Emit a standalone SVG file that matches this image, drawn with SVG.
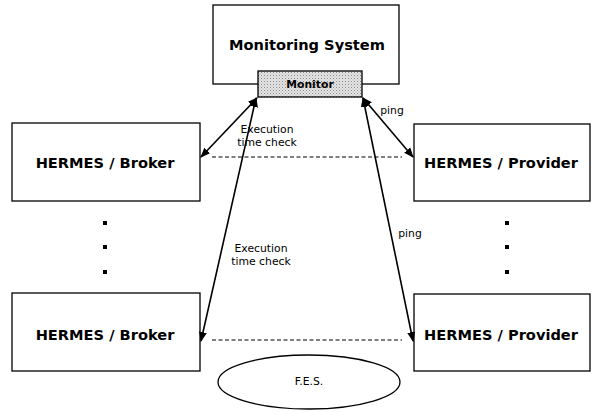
<svg xmlns="http://www.w3.org/2000/svg" width="593" height="412" viewBox="0 0 593 412">
<defs>
<pattern id="dots" width="3" height="3" patternUnits="userSpaceOnUse">
<rect width="3" height="3" fill="#e6e6e6"/>
<rect x="0" y="0" width="1" height="1" fill="#888"/>
<rect x="1.5" y="1.5" width="1" height="1" fill="#aaa"/>
</pattern>
<marker id="ah" viewBox="0 0 10 10" refX="9" refY="5" markerWidth="10" markerHeight="10" markerUnits="userSpaceOnUse" orient="auto-start-reverse">
<path d="M0,1 L10,5 L0,9 Z" fill="#000"/>
</marker>
</defs>
<style>
.box{fill:#fff;stroke:#000;stroke-width:1.3}
.big{font-family:"DejaVu Sans",Verdana,sans-serif;font-weight:bold;font-size:14.6px;fill:#000;text-anchor:middle}
.sm{font-family:"DejaVu Sans",Verdana,sans-serif;font-size:10.8px;fill:#000;text-anchor:middle}
.arr{stroke:#000;stroke-width:1.6;fill:none;marker-start:url(#ah);marker-end:url(#ah)}
.dash{stroke:#000;stroke-width:1;stroke-dasharray:4,2.5;fill:none}
.dot{fill:#000}
</style>
<rect width="593" height="412" fill="#fff"/>
<g id="monitoring-system">
<rect class="box" x="213" y="5" width="186" height="79"/>
<text class="big" x="307" y="50">Monitoring System</text>
</g>
<g id="monitor">
<rect x="258" y="71" width="104" height="26" fill="url(#dots)" stroke="#000" stroke-width="1.3"/>
<text class="sm" x="310" y="88" font-weight="bold" font-size="10px">Monitor</text>
</g>
<g id="broker1">
<rect class="box" x="12" y="123" width="188" height="78"/>
<text class="big" x="105" y="168">HERMES / Broker</text>
</g>
<g id="provider1">
<rect class="box" x="414" y="124" width="176" height="77"/>
<text class="big" x="501" y="168">HERMES / Provider</text>
</g>
<g id="broker2">
<rect class="box" x="12" y="293" width="188" height="78"/>
<text class="big" x="105" y="340">HERMES / Broker</text>
</g>
<g id="provider2">
<rect class="box" x="414" y="294" width="176" height="77"/>
<text class="big" x="501" y="340">HERMES / Provider</text>
</g>
<g id="fes">
<ellipse cx="309" cy="382" rx="91" ry="27" fill="#fff" stroke="#000" stroke-width="1.3"/>
<text class="sm" x="309" y="385">F.E.S.</text>
</g>
<g id="dots-left">
<rect class="dot" x="103" y="221" width="4" height="4"/>
<rect class="dot" x="103" y="245" width="4" height="4"/>
<rect class="dot" x="103" y="270" width="4" height="4"/>
</g>
<g id="dots-right">
<rect class="dot" x="505" y="221" width="4" height="4"/>
<rect class="dot" x="505" y="245" width="4" height="4"/>
<rect class="dot" x="505" y="270" width="4" height="4"/>
</g>
<g id="connectors">
<line class="dash" x1="212" y1="157" x2="402" y2="157"/>
<line class="dash" x1="212" y1="340" x2="402" y2="340"/>
<line class="arr" x1="257" y1="98" x2="201" y2="157"/>
<line class="arr" x1="256" y1="98" x2="201" y2="341"/>
<line class="arr" x1="363" y1="98" x2="413" y2="157"/>
<line class="arr" x1="363" y1="98" x2="413" y2="341"/>
<text class="sm" x="267" y="133">Execution</text>
<text class="sm" x="267" y="146">time check</text>
<text class="sm" x="261" y="252">Execution</text>
<text class="sm" x="261" y="265">time check</text>
<text class="sm" x="392" y="114">ping</text>
<text class="sm" x="410" y="237">ping</text>
</g>
</svg>
